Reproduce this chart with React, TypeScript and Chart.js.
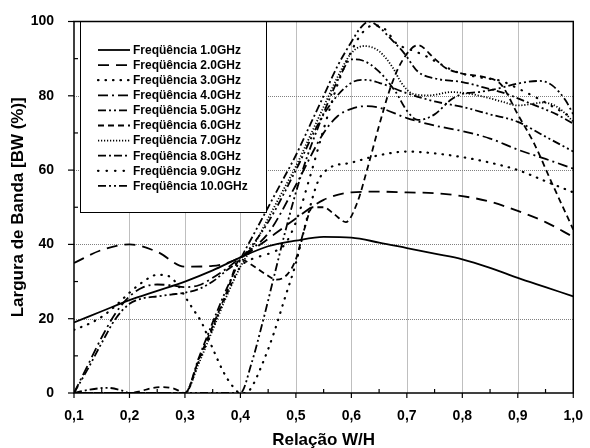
import React, { useEffect, useRef } from "react";
import { Chart, registerables } from "chart.js";

Chart.register(...registerables);

const FONT = "'Liberation Sans', Arial, Helvetica, sans-serif";

const X_MIN = 0.1;
const X_MAX = 1.0;
const Y_MIN = 0;
const Y_MAX = 100;
const X_STEP = 0.1;
const Y_STEP = 20;

const xTitle = "Relação W/H";
const yTitle = "Largura de Banda [BW (%)]";

const seriesLabels = [
  "Freqüência 1.0GHz",
  "Freqüência 2.0GHz",
  "Freqüência 3.0GHz",
  "Freqüência 4.0GHz",
  "Freqüência 5.0GHz",
  "Freqüência 6.0GHz",
  "Freqüência 7.0GHz",
  "Freqüência 8.0GHz",
  "Freqüência 9.0GHz",
  "Freqüência 10.0GHz",
];

const f1X = [0.1, 0.15, 0.2, 0.25, 0.3, 0.35, 0.4, 0.45, 0.5, 0.55, 0.6, 0.65, 0.7, 0.75, 0.8, 0.85, 0.9, 0.95, 1.0];
const f1Y = [19, 22, 25, 27.5, 30, 33, 36.5, 39.5, 41, 42, 41.8, 40.5, 39, 37.5, 36, 33.7, 31, 28.5, 26];

const f2X = [0.1, 0.15, 0.2, 0.25, 0.3, 0.35, 0.4, 0.45, 0.5, 0.55, 0.6, 0.65, 0.7, 0.75, 0.8, 0.85, 0.9, 0.95, 1.0];
const f2Y = [35, 38.5, 40, 38, 34, 34.2, 36.5, 41.5, 47, 52, 54, 54.2, 54, 53.8, 53, 51.5, 49, 46, 42];

const f3X = [0.1, 0.125, 0.15, 0.175, 0.2, 0.225, 0.25, 0.27, 0.285, 0.3, 0.315, 0.33, 0.35, 0.37, 0.385, 0.4, 0.41, 0.42, 0.44, 0.46, 0.48, 0.5, 0.52, 0.54, 0.56, 0.6, 0.65, 0.7, 0.75, 0.8, 0.85, 0.9, 0.95, 1.0];
const f3Y = [17, 18.5, 20.5, 23.5, 27, 30, 31.8, 31.5, 29.5, 26, 22.5, 19, 12, 5.5, 2, 0, 0, 1.5, 8, 16, 25.5, 35, 47, 57, 60.5, 62, 64, 65, 64.5, 63.5, 62, 60, 57, 54];

const f4X = [0.1, 0.125, 0.15, 0.175, 0.2, 0.225, 0.25, 0.275, 0.3, 0.325, 0.35, 0.375, 0.4, 0.45, 0.5, 0.55, 0.575, 0.6, 0.625, 0.65, 0.7, 0.75, 0.8, 0.85, 0.9, 0.95, 1.0];
const f4Y = [0, 7.5, 15, 21.5, 26, 28.5, 29.2, 29, 28.5, 29, 31, 33.5, 36.5, 43, 56, 70, 74.5, 76.5, 77.2, 76.8, 74, 72, 70.5, 68.5, 65.5, 63, 60.4];

const f5X = [0.1, 0.125, 0.15, 0.175, 0.2, 0.225, 0.25, 0.275, 0.3, 0.325, 0.35, 0.375, 0.4, 0.45, 0.5, 0.55, 0.6, 0.625, 0.65, 0.7, 0.75, 0.8, 0.85, 0.9, 0.95, 1.0];
const f5Y = [0, 6.5, 13.5, 20, 24, 25.5, 26, 26.5, 27, 28, 30, 33, 36, 46, 60, 75, 83.5, 84.3, 83.5, 80.7, 78.5, 77, 75, 73, 69, 65];

const f6X = [0.1, 0.15, 0.2, 0.22, 0.24, 0.26, 0.28, 0.3, 0.325, 0.35, 0.375, 0.4, 0.42, 0.445, 0.465, 0.485, 0.5, 0.515, 0.53, 0.55, 0.57, 0.59, 0.61, 0.63, 0.65, 0.67, 0.69, 0.72, 0.75, 0.77, 0.8, 0.84, 0.87, 0.9, 0.93, 0.96, 1.0];
const f6Y = [0, 0, 0, 0.5, 1.3, 1.6, 1.2, 0, 9, 18, 27, 36, 34.5, 32, 30.5, 32, 36, 44, 50, 50, 48, 46, 51, 61, 72, 82, 89, 93.6, 90, 87.5, 86, 85, 83, 75, 67, 57, 44];

const f7X = [0.1, 0.2, 0.3, 0.325, 0.35, 0.375, 0.4, 0.425, 0.45, 0.475, 0.5, 0.525, 0.55, 0.575, 0.6, 0.623, 0.65, 0.675, 0.69, 0.71, 0.74, 0.78, 0.81, 0.84, 0.87, 0.9, 0.925, 0.945, 0.965, 0.98, 1.0];
const f7Y = [0, 0, 0, 8, 17, 26, 34, 40, 47, 54, 61, 69, 77, 85, 91.5, 93.4, 92, 87.5, 83.5, 80.6, 80.1, 81, 80.6, 79.7, 78.5, 77.4, 77.8, 78.2, 77.5, 76, 73];

const f8X = [0.1, 0.125, 0.16, 0.19, 0.2, 0.3, 0.325, 0.35, 0.375, 0.4, 0.425, 0.45, 0.475, 0.5, 0.525, 0.55, 0.575, 0.6, 0.615, 0.632, 0.65, 0.67, 0.695, 0.72, 0.75, 0.8, 0.84, 0.87, 0.93, 0.97, 1.0];
const f8Y = [0, 0.8, 1.4, 0.5, 0, 0, 9.5, 19, 28, 36, 43, 50, 57, 64, 72, 80, 88, 94.5, 98, 100, 98.5, 95.5, 91.5, 86.5, 84.7, 83.7, 82.2, 81, 77.5, 75, 72.5];

const f9X = [0.1, 0.2, 0.3, 0.325, 0.35, 0.375, 0.4, 0.42, 0.44, 0.46, 0.48, 0.5, 0.525, 0.55, 0.575, 0.6, 0.62, 0.64, 0.66, 0.682, 0.705, 0.73, 0.755, 0.79, 0.83, 0.87, 0.9, 0.94, 0.97, 1.0];
const f9Y = [0, 0, 0, 8.5, 17.5, 26.5, 34, 36, 37, 38, 40, 46, 58, 71, 83, 92, 97, 99, 98, 94, 92.5, 91, 89, 86.4, 85, 84, 82, 79, 76.5, 74];

const f10X = [0.1, 0.4, 0.42, 0.44, 0.46, 0.48, 0.5, 0.52, 0.54, 0.56, 0.58, 0.6, 0.62, 0.65, 0.68, 0.7, 0.72, 0.75, 0.78, 0.8, 0.83, 0.866, 0.9, 0.94, 0.962, 0.986, 1.0];
const f10Y = [0, 0, 8, 19, 31, 43, 54, 63.5, 71.5, 79, 85.5, 89.8, 89.5, 86.5, 81, 76, 73.5, 75, 79, 80.5, 81, 82, 83.3, 84, 82.8, 78.8, 75];

const seriesX = [f1X, f2X, f3X, f4X, f5X, f6X, f7X, f8X, f9X, f10X];
const seriesY = [f1Y, f2Y, f3Y, f4Y, f5Y, f6Y, f7Y, f8Y, f9Y, f10Y];

const dashes: number[][] = [
  [],
  [11, 7],
  [0.5, 7],
  [10, 4, 2, 4],
  [8, 3, 2, 3, 2, 3],
  [6, 4],
  [1.2, 1.8],
  [8, 3, 2, 3, 8, 3, 2, 3, 2, 3],
  [0.5, 8],
  [8, 3, 2, 3, 2, 3],
];
const caps = ["butt", "butt", "round", "butt", "butt", "butt", "butt", "butt", "round", "butt"];

const gridAndFrame = {
  id: "gridAndFrame",
  beforeDatasetsDraw(chart: any) {
    const { ctx, chartArea, scales } = chart;
    const { left, right, top, bottom } = chartArea;
    const xs = scales.x;
    const ys = scales.y;
    ctx.save();
    ctx.strokeStyle = "#808080";
    ctx.lineWidth = 1;
    ctx.setLineDash([1, 1]);
    for (let v = X_MIN + X_STEP; v < X_MAX - 1e-6; v += X_STEP) {
      const px = Math.round(xs.getPixelForValue(v)) + 0.5;
      ctx.beginPath();
      ctx.moveTo(px, top);
      ctx.lineTo(px, bottom);
      ctx.stroke();
    }
    for (let v = Y_MIN + Y_STEP; v < Y_MAX - 1e-6; v += Y_STEP) {
      const py = Math.round(ys.getPixelForValue(v)) + 0.5;
      ctx.beginPath();
      ctx.moveTo(left, py);
      ctx.lineTo(right, py);
      ctx.stroke();
    }
    ctx.restore();
  },
  afterDatasetsDraw(chart: any) {
    const { ctx, chartArea, scales } = chart;
    const { left, right, top, bottom } = chartArea;
    const xs = scales.x;
    const ys = scales.y;
    ctx.save();
    // legend box
    const bx = left + 6.5;
    const bw = 186;
    const bh = 191;
    ctx.fillStyle = "#fff";
    ctx.fillRect(bx, top, bw, bh);
    ctx.strokeStyle = "#000";
    ctx.lineWidth = 1;
    ctx.setLineDash([]);
    ctx.strokeRect(bx, top, bw, bh);
    ctx.font = `bold 12px ${FONT}`;
    ctx.textBaseline = "middle";
    ctx.textAlign = "left";
    ctx.fillStyle = "#000";
    chart.data.datasets.forEach((ds: any, i: number) => {
      const y = top + 28.5 + i * 15.1;
      ctx.save();
      ctx.strokeStyle = "#000";
      ctx.lineWidth = ds.borderWidth;
      ctx.lineCap = ds.borderCapStyle || "butt";
      ctx.setLineDash(ds.borderDash || []);
      ctx.beginPath();
      ctx.moveTo(bx + 17.5, y);
      ctx.lineTo(bx + 49.5, y);
      ctx.stroke();
      ctx.restore();
      ctx.fillText(ds.label, bx + 52.5, y + 0.5);
    });
    // frame
    ctx.strokeStyle = "#000";
    ctx.lineWidth = 1.5;
    ctx.setLineDash([]);
    ctx.strokeRect(left, top, right - left, bottom - top);
    // ticks
    ctx.lineWidth = 1.2;
    for (let v = X_MIN; v <= X_MAX + 1e-6; v += X_STEP / 2) {
      const px = xs.getPixelForValue(v);
      const major = Math.abs(Math.round(v * 10) - v * 10) < 1e-6;
      ctx.beginPath();
      if (major) {
        ctx.moveTo(px, bottom);
        ctx.lineTo(px, bottom + 5);
      } else {
        ctx.moveTo(px, bottom);
        ctx.lineTo(px, bottom - 4);
      }
      ctx.stroke();
    }
    for (let v = Y_MIN; v <= Y_MAX + 1e-6; v += Y_STEP / 2) {
      const py = ys.getPixelForValue(v);
      const major = Math.round(v) % Y_STEP === 0;
      ctx.beginPath();
      if (major) {
        ctx.moveTo(left, py);
        ctx.lineTo(left - 6, py);
      } else {
        ctx.moveTo(left, py);
        ctx.lineTo(left + 4, py);
      }
      ctx.stroke();
    }
    ctx.restore();
  },
};

export default function App() {
  const ref = useRef<HTMLCanvasElement | null>(null);
  useEffect(() => {
    if (!ref.current) return;
    const datasets = seriesLabels.map((label, i) => ({
      label,
      data: seriesX[i].map((x, j) => ({ x, y: seriesY[i][j] })),
      borderColor: "#000",
      borderWidth: caps[i] === "round" ? 2.2 : 1.8,
      borderDash: dashes[i],
      borderCapStyle: caps[i],
      pointRadius: 0,
      fill: false,
      cubicInterpolationMode: "monotone" as const,
    }));
    const chart = new Chart(ref.current, {
      type: "line",
      data: { datasets },
      options: {
        responsive: false,
        animation: false,
        layout: { padding: { left: 0, right: 12.5, top: 21.5, bottom: 0 } },
        plugins: { legend: { display: false }, tooltip: { enabled: false } },
        scales: {
          x: {
            type: "linear",
            min: X_MIN,
            max: X_MAX,
            grid: { display: false },
            border: { display: false },
            ticks: {
              stepSize: X_STEP,
              autoSkip: false,
              maxRotation: 0,
              padding: 7,
              color: "#000",
              font: { family: FONT, size: 14, weight: "bold" },
              callback: (v: any) => Number(v).toFixed(1).replace(".", ","),
            },
            title: {
              display: true,
              text: xTitle,
              color: "#000",
              font: { family: FONT, size: 17, weight: "bold" },
              padding: { top: 0, bottom: -3 },
            },
            afterFit: (s: any) => {
              s.height = 55;
            },
          },
          y: {
            type: "linear",
            min: Y_MIN,
            max: Y_MAX,
            grid: { display: false },
            border: { display: false },
            ticks: {
              stepSize: Y_STEP,
              padding: 12,
              color: "#000",
              font: { family: FONT, size: 14, weight: "bold" },
            },
            title: {
              display: true,
              text: yTitle,
              color: "#000",
              font: { family: FONT, size: 17, weight: "bold" },
              padding: { top: 8, bottom: 0 },
            },
            afterFit: (s: any) => {
              s.width = 74;
            },
          },
        },
      } as any,
      plugins: [gridAndFrame],
    });
    return () => chart.destroy();
  }, []);
  return (
    <div style={{ position: "fixed", left: 0, top: 0, width: 590, height: 448, background: "#fff" }}>
      <canvas ref={ref} width={590} height={448} style={{ display: "block" }} />
    </div>
  );
}
